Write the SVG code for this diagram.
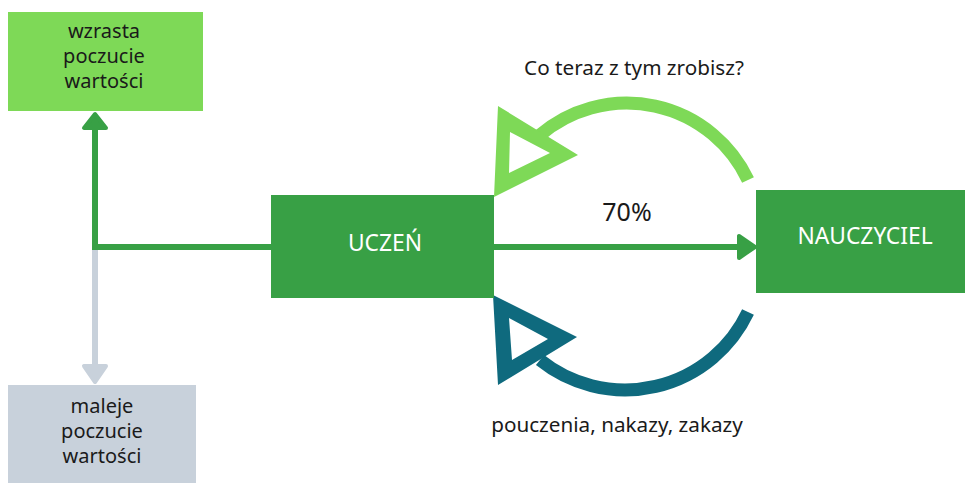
<svg xmlns="http://www.w3.org/2000/svg" width="965" height="483" viewBox="0 0 965 483">
<style>
.t{font-family:"Noto Sans","Open Sans","DejaVu Sans",sans-serif;font-size:20px;fill:#1a1a1a;text-anchor:middle}
.l{font-size:20.7px}
.w{fill:#ffffff;font-size:22.8px}
.g{stroke:#38a045;fill:none;stroke-width:6}
.gh{fill:#38a045;stroke:#38a045;stroke-width:4;stroke-linejoin:round}
</style>
<rect width="965" height="483" fill="#ffffff"/>
<g id="connectors">
  <line x1="95" y1="250" x2="95" y2="366" stroke="#c8d1db" stroke-width="6"/>
  <polygon points="84,366 106,366 95,382" fill="#c8d1db" stroke="#c8d1db" stroke-width="4" stroke-linejoin="round"/>
  <polyline class="g" points="272,247 95,247 95,128" stroke-linejoin="miter"/>
  <polygon class="gh" points="84,128 106,128 95,114"/>
  <line class="g" x1="494" y1="247" x2="740" y2="247"/>
  <polygon class="gh" points="739,236 739,258 755,247"/>
  <path d="M748,180 A134,134 0 0 0 540,135" fill="none" stroke="#7ed957" stroke-width="13"/>
  <path d="M498,106 L578,155 L494,197 Z M510,132 L509,173 L550,153 Z" fill="#7ed957" fill-rule="evenodd"/>
  <path d="M748,312 A136,136 0 0 1 540,360" fill="none" stroke="#0f6a7e" stroke-width="13"/>
  <path d="M493,295 L577,337 L498,385 Z M509,318 L512,360 L548,339 Z" fill="#0f6a7e" fill-rule="evenodd"/>
</g>
<g id="wzrasta">
  <rect x="8" y="12" width="195" height="99" fill="#7ed957"/>
  <text class="t" x="104" y="38">wzrasta</text>
  <text class="t" x="104" y="63">poczucie</text>
  <text class="t" x="104" y="88">wartości</text>
</g>
<g id="maleje">
  <rect x="8" y="385" width="188" height="98" fill="#c8d1db"/>
  <text class="t" x="102" y="413">maleje</text>
  <text class="t" x="102" y="438">poczucie</text>
  <text class="t" x="102" y="463">wartości</text>
</g>
<g id="uczen">
  <rect x="271" y="195" width="223" height="103" fill="#38a045"/>
  <text class="t w" x="385" y="251">UCZEŃ</text>
</g>
<g id="nauczyciel">
  <rect x="756" y="190" width="209" height="103" fill="#38a045"/>
  <text class="t w" x="865" y="244">NAUCZYCIEL</text>
</g>
<g id="labels">
  <text class="t l" x="634" y="75">Co teraz z tym zrobisz?</text>
  <text class="t" x="627" y="221" style="font-size:25px">70%</text>
  <text class="t l" x="617" y="432">pouczenia, nakazy, zakazy</text>
</g>
</svg>
